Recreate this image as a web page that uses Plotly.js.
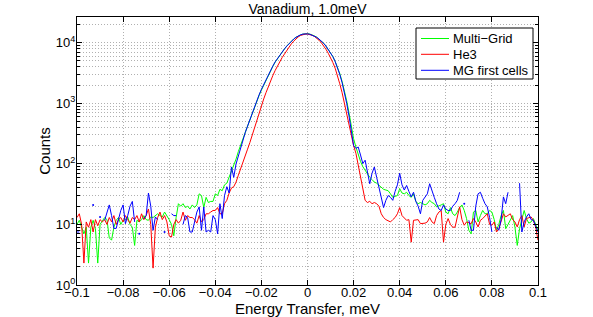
<!DOCTYPE html>
<html><head><meta charset="utf-8">
<script src="https://cdn.plot.ly/plotly-3.0.1.min.js"></script>
<style>html,body{margin:0;padding:0;background:#fff}#chart{width:593px;height:317px}</style>
</head><body><div id="chart"></div>
<script>
// Energy grid: -0.1 .. 0.1 meV in 0.001 steps
const xStart = -0.1, xStep = 0.001;

const multiGrid = [
 10, 11.7, 9, 7, 9, 2.3, 9, 11.7, 8.5, 2.3,
 10, 11.7, 13, 12, 6, 5.5, 9, 11.7, 13, 10,
 11.7, 12, 13.3, 10, 9, 4.5, 11.7, 11, 12, 14,
 12, 11.7, 13.3, 13, 14, 15, 14, 13.3, 16, 14,
 12, 10, 6.5, 13, 22, 20, 22, 19, 20, 18,
 21, 19, 21, 32, 30, 19, 28, 23, 24, 24,
 32, 30, 38, 36, 45, 48, 60, 80, 95, 120,
 160, 200, 260, 330, 420, 530, 680, 860, 1080, 1350,
 1650, 2000, 2400, 2900, 3500, 4100, 4800, 5500, 6300, 7100,
 7900, 8800, 9700, 10600, 11500, 12300, 13000, 13500, 13900, 14100,
 14100,
 13900, 13500, 13000, 12300, 11500, 10700, 9800, 8800, 7800, 6800,
 5900, 4900, 4000, 3100, 2300, 1650, 1100, 700, 420, 260,
 190, 140, 110, 90, 78, 68, 60, 55, 50, 48,
 44, 40, 38, 37, 36, 32, 28, 29, 30, 39,
 33, 32, 34, 30, 28, 32, 24, 22, 23, 22,
 21, 22, 25, 23, 22, 19.5, 20, 21, 22, 16,
 15, 19, 15, 14, 16, 19, 21, 17, 12.5, 8,
 7, 16, 17, 11, 14, 17, 15, 15, 17, 16,
 12, 8, 10, 14, 17, 8.5, 10, 12, 14, 9,
 4.5, 8.5, 12, 17, 12.5, 10.5, 11, 12.5, 10, 8
];

const he3 = [
 13, 15, 10, 2.3, 11, 9, 12, 7.5, 12, 9.5,
 12, 11, 12, 10, 13, 11, 14, 10, 12, 13,
 11, 14, 12, 10.5, 13, 12, 14, 11, 15, 12,
 14, 18, 10, 1.9, 9, 13, 16, 12, 14, 11,
 6.5, 6.2, 10, 12, 10.5, 11.7, 16, 11.7, 14, 13,
 13, 12, 10.5, 14, 11, 12, 15, 15, 16, 17,
 17, 19, 15, 15, 22, 25, 33, 40, 42, 50,
 65, 82, 105, 135, 175, 225, 300, 400, 530, 700,
 920, 1180, 1500, 1900, 2400, 2900, 3500, 4200, 5000, 5700,
 6500, 7500, 8500, 9600, 10600, 11600, 12500, 13200, 13700, 13900,
 13900,
 13700, 13300, 12700, 11900, 11000, 10000, 8900, 7800, 6700, 5700,
 4700, 3800, 2900, 2100, 1500, 1000, 640, 400, 280, 200,
 150, 95, 58, 35, 25, 23, 24, 22, 23, 22,
 20, 15, 13, 12, 11.5, 11, 12, 13, 15, 19,
 14, 13, 11.7, 12, 5.1, 11.7, 12, 12, 10.3, 10.3,
 10.5, 11, 13, 11, 10.3, 14, 16, 17, 5.1, 10,
 12.5, 10, 9, 9, 14, 19.5, 12, 9.7, 11, 10.5,
 10.3, 12.5, 11, 9.1, 11.7, 12.5, 14, 15, 10, 9.7,
 11, 7.5, 8.5, 11, 15, 13.3, 14, 15, 12, 11,
 9.1, 12, 14, 9.1, 12.5, 13, 13.3, 11.7, 9, 5.5
];

// null = zero counts (not drawable on the log axis)
const mgFirstCells = [
 7.5, 7.5, null, null, null, null, null, 21, null, null,
 13.3, null, 11.7, 16, 21, 14, 8.6, 8.6, 12, 17,
 21, 10.3, 14, 20, 24, 11, null, 7, null, 12.5,
 14, 33, 20, 8, 13.3, 12, null, null, 7.5, null,
 null, 15, 14, 14, null, null, 10, 14, 13, 7.5,
 7.5, 11.7, 16, 19.5, 8, 19.5, 7.5, 8, 7.5, 14,
 12, 7, 22, 12.5, 30, 42, 33, 89, 60, 100,
 135, 190, 250, 330, 420, 540, 690, 880, 1100, 1380,
 1700, 2050, 2450, 2950, 3500, 4150, 4850, 5550, 6300, 7100,
 7900, 8800, 9700, 10600, 11500, 12300, 13000, 13500, 13900, 14000,
 14000,
 13800, 13400, 12900, 12300, 11500, 10700, 9800, 8800, 7800, 6800,
 5900, 4900, 3900, 3000, 2200, 1550, 1000, 620, 340, 200,
 180, 190, 140, 101, 115, 70, 47, 70, 89, 60,
 42, 28, 19, 25, 30, 28, 25, 35, 45, 70,
 45, 37, 44, 35, 28.5, 34, 24, 20, 15, 25,
 28, 32, 47, 35, 28, 22, 18, 17, 21, 18,
 17, 17, 20, 22, 25, 34, null, 22, null, 11.7,
 8, 8, 20, 32, 34, 27, 22, 19.5, 13, 7.5,
 null, 9, 8, 12, 28.5, 22, 34, null, null, null,
 null, 48, 7.5, 11, 13.3, 15, 12, 11.7, 9, 7.5
];

const seriesNames = ['Multi\u2212Grid', 'He3', 'MG first cells'];
const seriesColors = ['#00ff00', '#ff0000', '#0000ff'];
const yTickVals = [1, 10, 100, 1000, 10000];
const yTickText = ['10<sup>0</sup>', '10<sup>1</sup>', '10<sup>2</sup>', '10<sup>3</sup>', '10<sup>4</sup>'];

const energy = multiGrid.map((_, i) => +(xStart + i * xStep).toFixed(3));

// isolated blue samples (neighbours are zero) are shown as dots
const isoX = [], isoY = [];
mgFirstCells.forEach((v, i) => {
  if (v !== null && (i === 0 || mgFirstCells[i-1] === null) && (i === mgFirstCells.length-1 || mgFirstCells[i+1] === null)) {
    isoX.push(energy[i]); isoY.push(v);
  }
});

const minorVals = [];
for (let d = 1; d <= 10000; d *= 10) for (let k = 2; k <= 9; k++) minorVals.push(k * d);

// plot area in pixels (for the boxed legend)
const W = 593, H = 317, ML = 77, MR = 55, MT = 17, MB = 32;
const PW = W - ML - MR, PH = H - MT - MB;
const px = v => (v - ML) / PW;
const py = v => (H - MB - v) / PH;

const shapes = [
  {type: 'rect', xref: 'paper', yref: 'paper', x0: px(416), x1: px(533), y0: py(79), y1: py(28),
   line: {color: '#000', width: 1}, fillcolor: '#fff', layer: 'above'}
];
const annotations = [];
const rowY = [38.5, 54.3, 70.3];
seriesNames.forEach((n, i) => {
  shapes.push({type: 'line', xref: 'paper', yref: 'paper', x0: px(421), x1: px(449), y0: py(rowY[i]), y1: py(rowY[i]),
    line: {color: seriesColors[i], width: 1}, layer: 'above'});
  annotations.push({xref: 'paper', yref: 'paper', x: px(452), y: py(rowY[i]), xanchor: 'left', yanchor: 'middle',
    text: n, showarrow: false, font: {size: 13, color: '#000'}, borderpad: 0});
});

const gridCol = '#b0b0b0';
const data = [
  {x: energy, y: multiGrid, name: seriesNames[0], type: 'scatter', mode: 'lines', line: {color: seriesColors[0], width: 1}},
  {x: energy, y: he3, name: seriesNames[1], type: 'scatter', mode: 'lines', line: {color: seriesColors[1], width: 1}},
  {x: energy, y: mgFirstCells, name: seriesNames[2], type: 'scatter', mode: 'lines', connectgaps: false, line: {color: seriesColors[2], width: 1}},
  {x: isoX, y: isoY, type: 'scatter', mode: 'markers', showlegend: false, hoverinfo: 'skip', marker: {color: seriesColors[2], size: 2}}
];

const layout = {
  width: W, height: H,
  margin: {l: ML, r: MR, t: MT, b: MB, pad: 0},
  paper_bgcolor: '#fff', plot_bgcolor: '#fff',
  font: {family: '"Liberation Sans", Arial, Helvetica, sans-serif', size: 13, color: '#000'},
  title: {text: 'Vanadium, 1.0meV', font: {size: 14, color: '#000'}, xref: 'paper', x: 0.5, xanchor: 'center', yref: 'container', y: 0.972, yanchor: 'middle'},
  showlegend: false,
  shapes: shapes,
  annotations: annotations,
  xaxis: {
    range: [-0.1, 0.1], tick0: 0, dtick: 0.02, ticks: 'inside', ticklen: 5, tickcolor: '#000', tickwidth: 1,
    showline: true, linecolor: '#000', linewidth: 1, mirror: 'ticks',
    showgrid: true, gridcolor: gridCol, griddash: '1px,2px', gridwidth: 1, zeroline: false,
    tickfont: {size: 13}, ticklabelstandoff: -5,
    title: {text: 'Energy Transfer, meV', font: {size: 15}, standoff: 1}
  },
  yaxis: {
    type: 'log', range: [0, 4.425], tickmode: 'array', tickvals: yTickVals, ticktext: yTickText,
    ticks: 'inside', ticklen: 5, tickcolor: '#000', tickwidth: 1,
    showline: true, linecolor: '#000', linewidth: 1, mirror: 'ticks',
    showgrid: true, gridcolor: gridCol, griddash: '1px,2px', gridwidth: 1, zeroline: false,
    tickfont: {size: 13}, ticklabelstandoff: -2,
    minor: {tickmode: 'array', tickvals: minorVals, ticks: 'inside', ticklen: 3, tickcolor: '#000',
      showgrid: true, gridcolor: gridCol, griddash: '1px,2px', gridwidth: 1},
    title: {text: 'Counts', font: {size: 15}, standoff: 1}
  }
};

Plotly.newPlot('chart', data, layout, {staticPlot: true, displayModeBar: false});
</script>
</body></html>
